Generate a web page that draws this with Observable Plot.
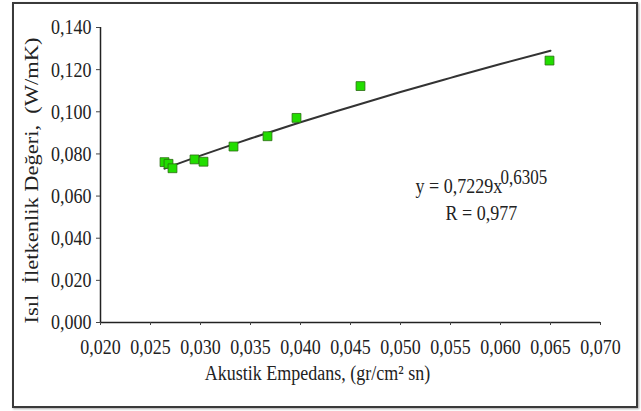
<!DOCTYPE html>
<html>
<head>
<meta charset="utf-8">
<script src="https://cdn.jsdelivr.net/npm/d3@7"></script>
<script src="https://cdn.jsdelivr.net/npm/@observablehq/plot@0.6"></script>
<style>
  html, body { margin: 0; padding: 0; background: #fff; }
  #wrap { position: relative; width: 641px; height: 411px; }
  #frame { position: absolute; left: 12px; top: 2px; width: 622px; height: 402px;
           border: 2px solid #3a3a3a; box-shadow: 1px 1px 2px rgba(0,0,0,0.35); pointer-events: none; }
</style>
</head>
<body>
<div id="wrap"><div id="frame"></div></div>
<script>
// Data
const impedance = [0.0264, 0.0268, 0.0272, 0.0294, 0.0303, 0.0333, 0.0367, 0.0396, 0.0460, 0.0649];
const conductivity = [0.0761, 0.0753, 0.0732, 0.0774, 0.0763, 0.0835, 0.0884, 0.0971, 0.1122, 0.1243];

// Power trend line (y = 0,7229x^0,6305) values
const trendX = [0.0264, 0.030, 0.035, 0.040, 0.045, 0.050, 0.055, 0.060, 0.065];
const trendY = [0.0730, 0.0792, 0.0873, 0.0950, 0.1023, 0.1094, 0.1161, 0.1227, 0.1290];

const xTicks = [0.020, 0.025, 0.030, 0.035, 0.040, 0.045, 0.050, 0.055, 0.060, 0.065, 0.070];
const yTicks = [0.000, 0.020, 0.040, 0.060, 0.080, 0.100, 0.120, 0.140];

const xLabel = "Akustik Empedans, (gr/cm² sn)";
const yLabel = "Isıl  İletkenlik Değeri,  (W/mK)";
const eqMain = "y = 0,7229x";
const eqExp = "0,6305";
const eqR = "R = 0,977";

const points = impedance.map((x, i) => ({x, y: conductivity[i]}));
const trend = trendX.map((x, i) => ({x, y: trendY[i]}));
const fmt = d => d.toFixed(3).replace(".", ",");
const serif = "'Liberation Serif', 'Times New Roman', serif";

const chart = Plot.plot({
  width: 641,
  height: 411,
  marginLeft: 100,
  marginRight: 41,
  marginTop: 27,
  marginBottom: 89,
  style: { fontFamily: serif, fontSize: "18px", color: "#222", background: "transparent" },
  x: { domain: [0.02, 0.07] },
  y: { domain: [0, 0.14] },
  marks: [
    Plot.ruleY([0], { stroke: "#222", strokeWidth: 1.5 }),
    Plot.ruleX([0.02], { stroke: "#222", strokeWidth: 1.5 }),
    Plot.axisX({ ticks: xTicks, tickFormat: fmt, tickSize: 3, tickPadding: 13, label: null, stroke: "#444", fontSize: 18, fontFamily: serif, fontVariant: "normal" }),
    Plot.axisY({ ticks: yTicks, tickFormat: fmt, tickSize: 4, tickPadding: 5, label: null, stroke: "#444", fontSize: 18, fontFamily: serif, fontVariant: "normal" }),
    Plot.line(trend, { x: "x", y: "y", stroke: "#333", strokeWidth: 2, curve: "natural" }),
    Plot.dot(points, { x: "x", y: "y", symbol: "square", r: 5, fill: "#22dd00", stroke: "#2b6b12", strokeWidth: 0.8 }),
    Plot.text([xLabel], { frameAnchor: "bottom", dx: -33, dy: 57, fontSize: 18, fontFamily: serif, fill: "#222" }),
    Plot.text([yLabel], { frameAnchor: "left", textAnchor: "middle", dx: -68, dy: 5.5, rotate: -90, fontSize: 18, fontFamily: serif, fill: "#222", className: "ylab" }),
    Plot.text([eqMain], { frameAnchor: "top-left", textAnchor: "start", dx: 315, dy: 150, fontSize: 18, fontFamily: serif, fill: "#222" }),
    Plot.text([eqExp], { frameAnchor: "top-left", textAnchor: "start", dx: 400, dy: 142, fontSize: 17, fontFamily: serif, fill: "#222" }),
    Plot.text([eqR], { frameAnchor: "top-left", textAnchor: "start", dx: 345, dy: 177, fontSize: 18, fontFamily: serif, fill: "#222" })
  ]
});
document.getElementById("wrap").prepend(chart);
// the reference glyphs are drawn taller than wide: stretch text vertically (along the label for the rotated one)
d3.select(chart).selectAll("text").each(function () {
  const t = d3.select(this);
  const tr = t.attr("transform") || "";
  const rotated = /rotate/.test(tr);
  t.attr("transform", tr + (rotated ? " scale(1.25,1)" : " scale(1,1.2)"));
});
</script>
</body>
</html>
